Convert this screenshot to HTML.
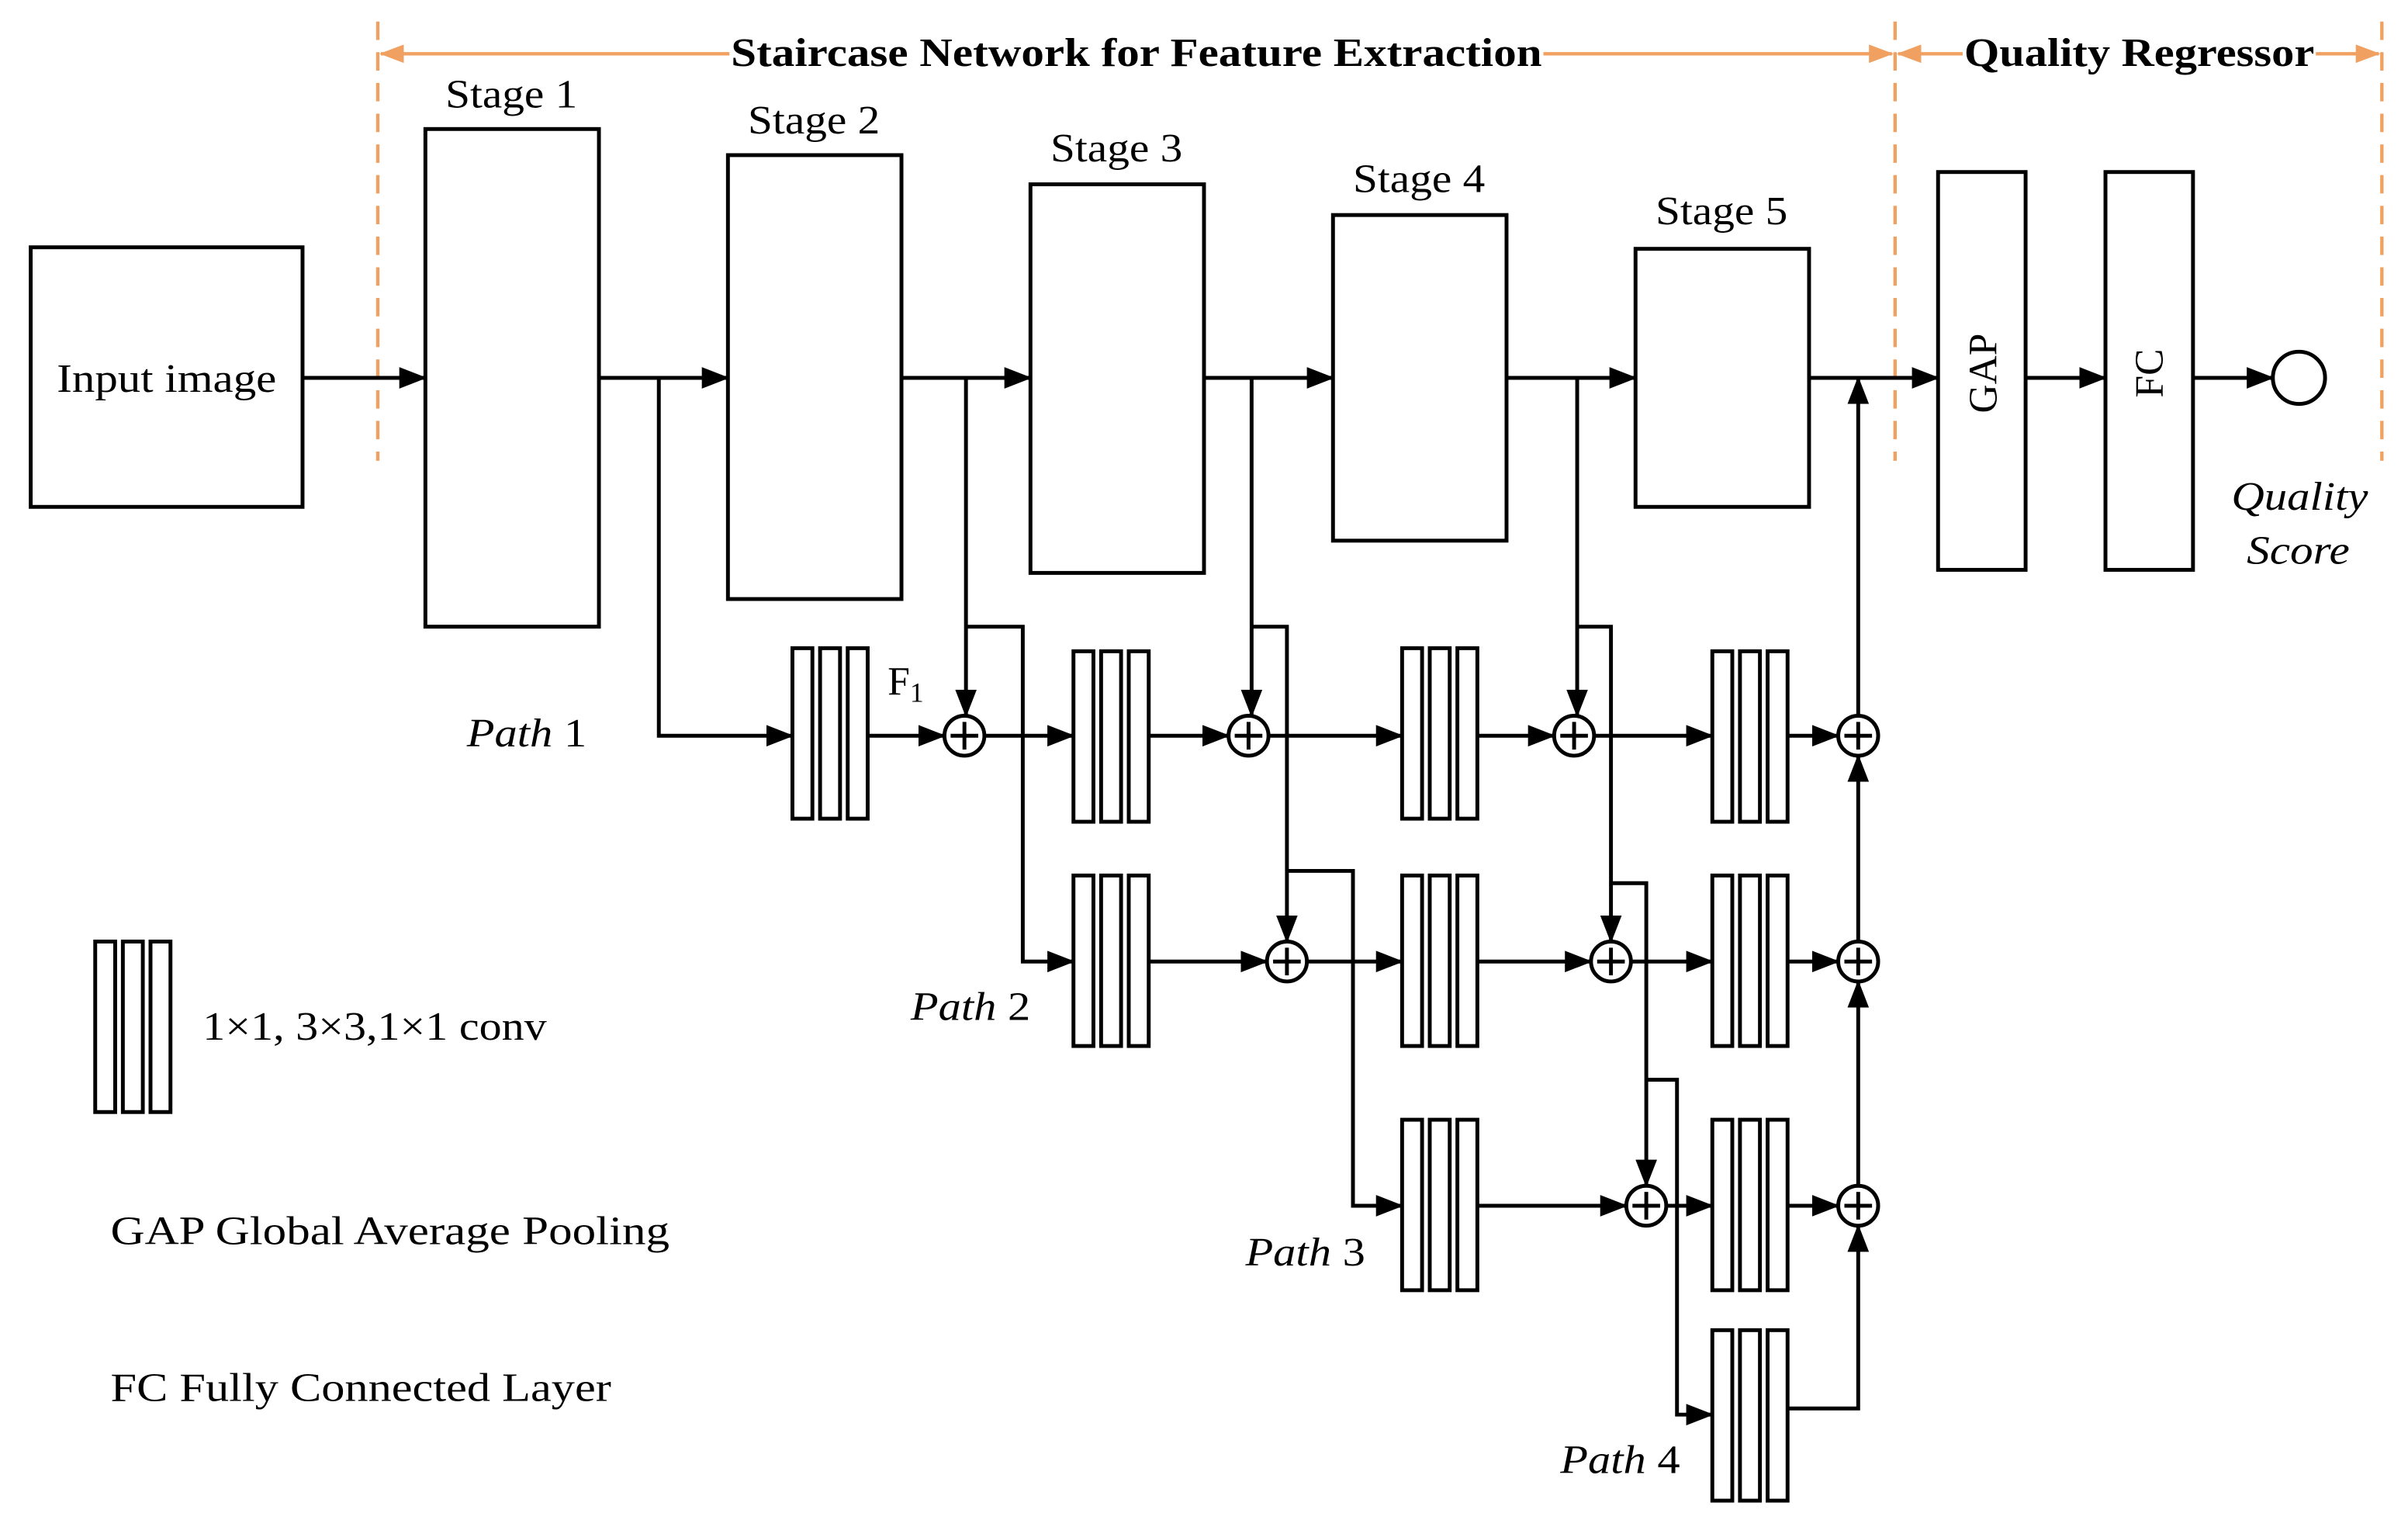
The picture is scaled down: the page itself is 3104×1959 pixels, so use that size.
<!DOCTYPE html>
<html><head><meta charset="utf-8"><style>
html,body{margin:0;padding:0;background:#fff;}
svg{display:block;}
text{font-family:"Liberation Serif",serif;fill:#000;}
</style></head><body>
<svg width="3104" height="1959" viewBox="0 0 1568 989.6" xmlns="http://www.w3.org/2000/svg">
<defs>
<marker id="a" markerUnits="userSpaceOnUse" markerWidth="18" markerHeight="14" refX="17" refY="7" orient="auto"><path d="M0,0 L18,7 L0,14 Z" fill="#000"/></marker>
<marker id="o" markerUnits="userSpaceOnUse" markerWidth="16" markerHeight="12" refX="15" refY="6" orient="auto-start-reverse"><path d="M0,0 L16,6 L0,12 Z" fill="#f0a060"/></marker>
</defs>
<g fill="none" stroke="#000" stroke-width="2.5">
<g stroke="#f0a060" stroke-width="2.2">
<line x1="246" y1="14" x2="246" y2="300" stroke-dasharray="12,8"/>
<line x1="1234" y1="14" x2="1234" y2="300" stroke-dasharray="12,8"/>
<line x1="1551" y1="14" x2="1551" y2="300" stroke-dasharray="12,8"/>
<line x1="248" y1="35" x2="475" y2="35" marker-start="url(#o)"/>
<line x1="1005" y1="35" x2="1232" y2="35" marker-end="url(#o)"/>
<line x1="1236" y1="35" x2="1278" y2="35" marker-start="url(#o)"/>
<line x1="1508" y1="35" x2="1549" y2="35" marker-end="url(#o)"/>
</g>
<rect x="20" y="161" width="177" height="169"/>
<rect x="277" y="84" width="113" height="324"/>
<rect x="474" y="101" width="113" height="289"/>
<rect x="671" y="120" width="113" height="253"/>
<rect x="868" y="140" width="113" height="212"/>
<rect x="1065" y="162" width="113" height="168"/>
<rect x="1262" y="112" width="57" height="259"/>
<rect x="1371" y="112" width="57" height="259"/>
<circle cx="1497" cy="246" r="17"/>
<line x1="197" y1="246" x2="277" y2="246" marker-end="url(#a)"/>
<line x1="390" y1="246" x2="474" y2="246" marker-end="url(#a)"/>
<line x1="587" y1="246" x2="671" y2="246" marker-end="url(#a)"/>
<line x1="784" y1="246" x2="868" y2="246" marker-end="url(#a)"/>
<line x1="981" y1="246" x2="1065" y2="246" marker-end="url(#a)"/>
<line x1="1178" y1="246" x2="1262" y2="246" marker-end="url(#a)"/>
<line x1="1319" y1="246" x2="1371" y2="246" marker-end="url(#a)"/>
<line x1="1428" y1="246" x2="1480" y2="246" marker-end="url(#a)"/>
<g id="cv">
<rect x="516" y="422" width="13" height="111"/><rect x="534" y="422" width="13" height="111"/><rect x="552" y="422" width="13" height="111"/>
</g>
<use href="#cv" x="183" y="2"/>
<use href="#cv" x="397" y="0"/>
<use href="#cv" x="599" y="2"/>
<use href="#cv" x="183" y="148"/>
<use href="#cv" x="397" y="148"/>
<use href="#cv" x="599" y="148"/>
<use href="#cv" x="397" y="307"/>
<use href="#cv" x="599" y="307"/>
<use href="#cv" x="599" y="444"/>
<use href="#cv" x="-454" y="191"/>
<g id="s"><circle cx="628" cy="479" r="13"/><line x1="619" y1="479" x2="637" y2="479"/><line x1="628" y1="470" x2="628" y2="488"/></g>
<use href="#s" x="185"/><use href="#s" x="397"/><use href="#s" x="582"/>
<use href="#s" x="210" y="147"/><use href="#s" x="421" y="147"/><use href="#s" x="582" y="147"/>
<use href="#s" x="444" y="306"/><use href="#s" x="582" y="306"/>
<polyline points="429,246 429,479 516,479" marker-end="url(#a)"/>
<line x1="565" y1="479" x2="615" y2="479" marker-end="url(#a)"/>
<line x1="641" y1="479" x2="699" y2="479" marker-end="url(#a)"/>
<line x1="748" y1="479" x2="800" y2="479" marker-end="url(#a)"/>
<line x1="826" y1="479" x2="913" y2="479" marker-end="url(#a)"/>
<line x1="962" y1="479" x2="1012" y2="479" marker-end="url(#a)"/>
<line x1="1038" y1="479" x2="1115" y2="479" marker-end="url(#a)"/>
<line x1="1164" y1="479" x2="1197" y2="479" marker-end="url(#a)"/>
<line x1="748" y1="626" x2="825" y2="626" marker-end="url(#a)"/>
<line x1="851" y1="626" x2="913" y2="626" marker-end="url(#a)"/>
<line x1="962" y1="626" x2="1036" y2="626" marker-end="url(#a)"/>
<line x1="1062" y1="626" x2="1115" y2="626" marker-end="url(#a)"/>
<line x1="1164" y1="626" x2="1197" y2="626" marker-end="url(#a)"/>
<line x1="962" y1="785" x2="1059" y2="785" marker-end="url(#a)"/>
<line x1="1085" y1="785" x2="1115" y2="785" marker-end="url(#a)"/>
<line x1="1164" y1="785" x2="1197" y2="785" marker-end="url(#a)"/>
<polyline points="1164,917 1210,917 1210,798" marker-end="url(#a)"/>
<line x1="1210" y1="772" x2="1210" y2="639" marker-end="url(#a)"/>
<line x1="1210" y1="613" x2="1210" y2="492" marker-end="url(#a)"/>
<line x1="1210" y1="466" x2="1210" y2="246" marker-end="url(#a)"/>
<line x1="629" y1="246" x2="629" y2="466" marker-end="url(#a)"/>
<polyline points="629,408 666,408 666,626 699,626" marker-end="url(#a)"/>
<line x1="815" y1="246" x2="815" y2="466" marker-end="url(#a)"/>
<polyline points="815,408 838,408 838,613" marker-end="url(#a)"/>
<polyline points="838,567 881,567 881,785 913,785" marker-end="url(#a)"/>
<line x1="1027" y1="246" x2="1027" y2="466" marker-end="url(#a)"/>
<polyline points="1027,408 1049,408 1049,613" marker-end="url(#a)"/>
<polyline points="1049,575 1072,575 1072,772" marker-end="url(#a)"/>
<polyline points="1072,703 1092,703 1092,921 1115,921" marker-end="url(#a)"/>
</g>
<g font-size="26" lengthAdjust="spacingAndGlyphs">
<text x="37" y="255" textLength="143" lengthAdjust="spacingAndGlyphs">Input image</text>
<text x="290" y="70" textLength="86" lengthAdjust="spacingAndGlyphs">Stage 1</text>
<text x="487" y="87" textLength="86" lengthAdjust="spacingAndGlyphs">Stage 2</text>
<text x="684" y="105" textLength="86" lengthAdjust="spacingAndGlyphs">Stage 3</text>
<text x="881" y="125" textLength="86" lengthAdjust="spacingAndGlyphs">Stage 4</text>
<text x="1078" y="146" textLength="86" lengthAdjust="spacingAndGlyphs">Stage 5</text>
<text x="476" y="43" font-weight="bold" textLength="528" lengthAdjust="spacingAndGlyphs">Staircase Network for Feature Extraction</text>
<text x="1279" y="43" font-weight="bold" textLength="228" lengthAdjust="spacingAndGlyphs">Quality Regressor</text>
<text transform="translate(1300,243) rotate(-90)" text-anchor="middle">GAP</text>
<text transform="translate(1408,243) rotate(-90)" text-anchor="middle">FC</text>
<text x="1453" y="332" font-style="italic" textLength="89" lengthAdjust="spacingAndGlyphs">Quality</text>
<text x="1463" y="367" font-style="italic" textLength="67" lengthAdjust="spacingAndGlyphs">Score</text>
<text x="304" y="486" textLength="78" lengthAdjust="spacingAndGlyphs"><tspan font-style="italic">Path</tspan> 1</text>
<text x="593" y="664" textLength="78" lengthAdjust="spacingAndGlyphs"><tspan font-style="italic">Path</tspan> 2</text>
<text x="811" y="824" textLength="78" lengthAdjust="spacingAndGlyphs"><tspan font-style="italic">Path</tspan> 3</text>
<text x="1016" y="959" textLength="78" lengthAdjust="spacingAndGlyphs"><tspan font-style="italic">Path</tspan> 4</text>
<text x="578" y="452">F<tspan font-size="18" dy="5">1</tspan></text>
<text x="132" y="677" textLength="224" lengthAdjust="spacingAndGlyphs">1×1, 3×3,1×1 conv</text>
<text x="72" y="810" textLength="364" lengthAdjust="spacingAndGlyphs">GAP  Global Average Pooling</text>
<text x="72" y="912" textLength="326" lengthAdjust="spacingAndGlyphs">FC  Fully Connected Layer</text>
</g>
</svg>
</body></html>
